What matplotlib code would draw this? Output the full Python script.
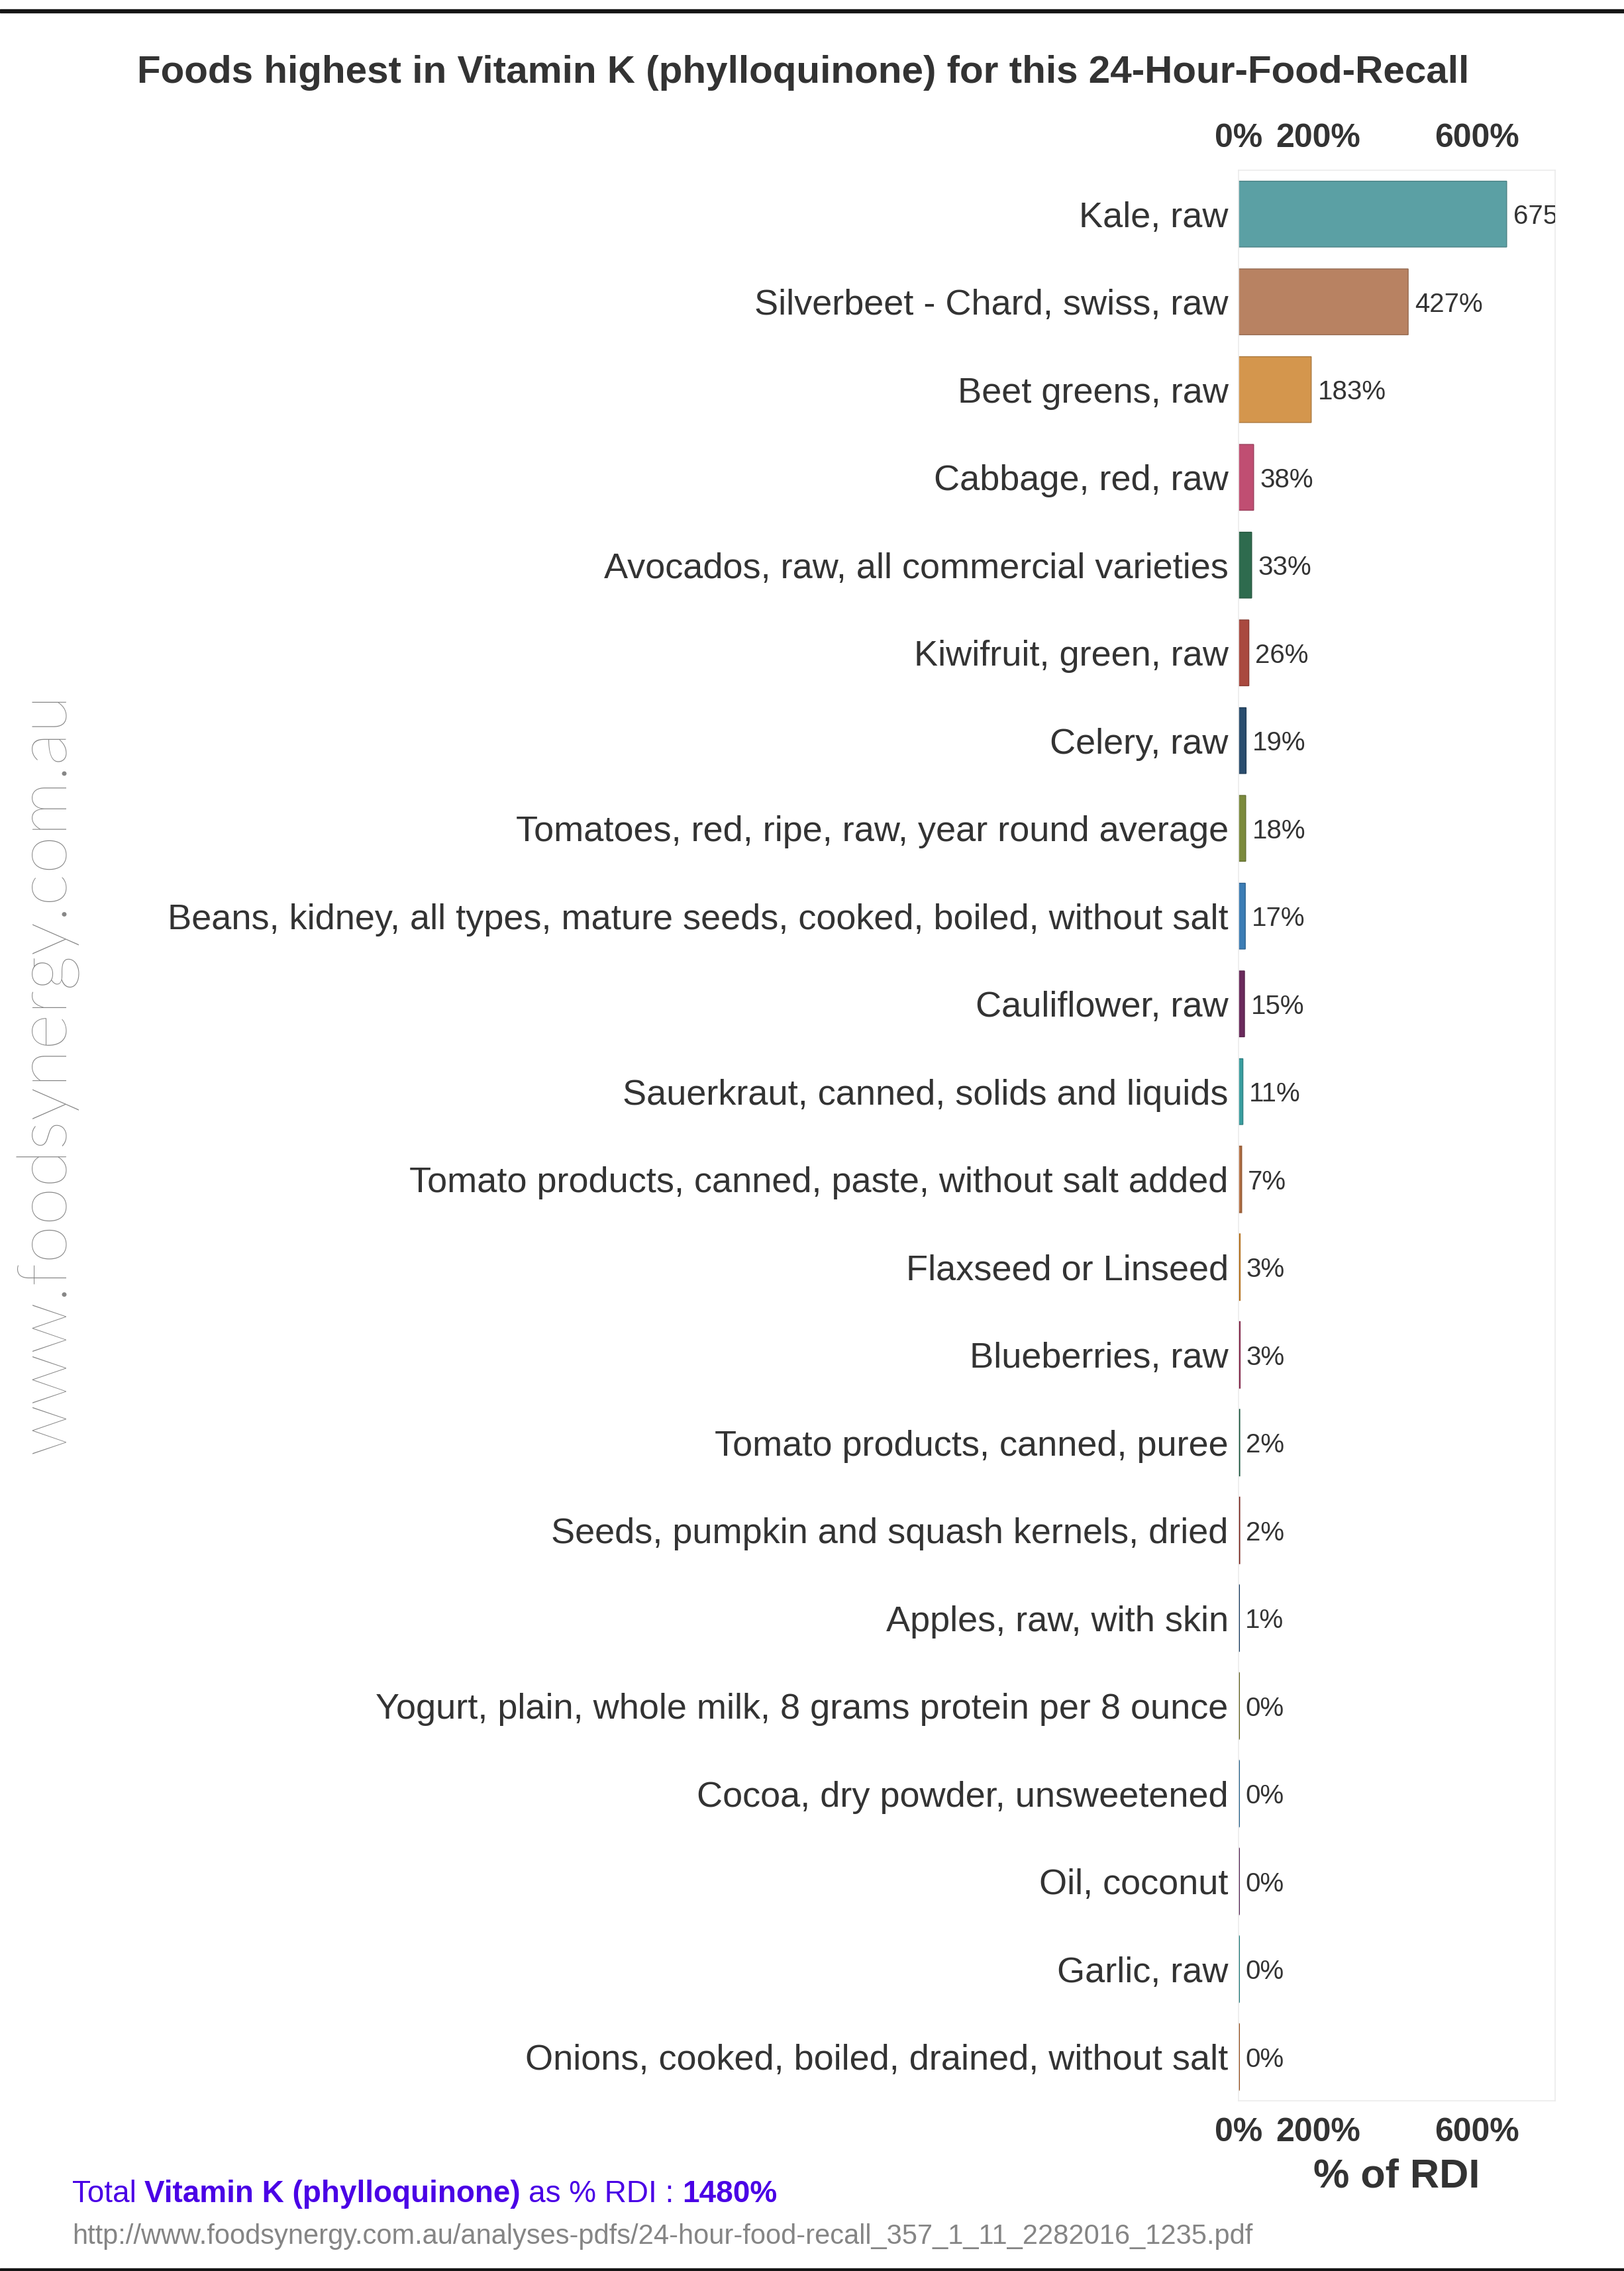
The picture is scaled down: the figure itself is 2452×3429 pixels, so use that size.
#VitaminK_24h_recall.py
import numpy as np
import matplotlib
matplotlib.use('Agg')
import matplotlib.pyplot as plt
from matplotlib.patches import Rectangle
import matplotlib.colors as mcolors

'''Data'''
foods = ['Kale, raw',
         'Silverbeet - Chard, swiss, raw',
         'Beet greens, raw',
         'Cabbage, red, raw',
         'Avocados, raw, all commercial varieties',
         'Kiwifruit, green, raw',
         'Celery, raw',
         'Tomatoes, red, ripe, raw, year round average',
         'Beans, kidney, all types, mature seeds, cooked, boiled, without salt',
         'Cauliflower, raw',
         'Sauerkraut, canned, solids and liquids',
         'Tomato products, canned, paste, without salt added',
         'Flaxseed or Linseed',
         'Blueberries, raw',
         'Tomato products, canned, puree',
         'Seeds, pumpkin and squash kernels, dried',
         'Apples, raw, with skin',
         'Yogurt, plain, whole milk, 8 grams protein per 8 ounce',
         'Cocoa, dry powder, unsweetened',
         'Oil, coconut',
         'Garlic, raw',
         'Onions, cooked, boiled, drained, without salt']
rdi_pct = [675, 427, 183, 38, 33, 26, 19, 18, 17, 15, 11, 7, 3, 3, 2, 2, 1, 0, 0, 0, 0, 0]
bar_colors = ['#5ba0a4', '#b88262', '#d4964d', '#c04e72', '#2e6b4e', '#a9493f',
              '#2a4d6e', '#7b8a3c', '#3c7db5', '#6a2a5c', '#3a9ea0', '#c07848',
              '#e08a20', '#a0305a', '#0a5a3a', '#8b1a10', '#0a3a6a', '#6a6a10',
              '#1a6aa0', '#5a1a5a', '#108a8a', '#b05010']
x_ticks = [0, 200, 600]
x_ticklabels = ['0%', '200%', '600%']
nutrient = 'Vitamin K (phylloquinone)'
total_pct = 1480
source_url = 'http://www.foodsynergy.com.au/analyses-pdfs/24-hour-food-recall_357_1_11_2282016_1235.pdf'

plt.rcParams['font.family'] = ['Liberation Sans', 'DejaVu Sans']
txt_col = '#333333'

W, H = 2452, 3429
fig = plt.figure(figsize=(W/100, H/100), dpi=100)
fig.patch.set_facecolor('white')

#axes placed from pixel measurements of the reference
ax_l, ax_r, ax_t, ax_b = 1870, 2348, 257, 3172
ax = fig.add_axes([ax_l/W, 1 - ax_b/H, (ax_r - ax_l)/W, (ax_b - ax_t)/H])

ypos = np.arange(len(foods))
edge_cols = [tuple(np.array(mcolors.to_rgb(c))*0.8) for c in bar_colors]
#the original still shows a hairline for the rounded-to-0% foods
draw_vals = np.maximum(np.array(rdi_pct, dtype=float), 0.8)
lws = [1.0 if v > 10 else 1.8 for v in rdi_pct]
bars = ax.barh(ypos, draw_vals, height=0.75, color=bar_colors,
               edgecolor=edge_cols, linewidth=lws, snap=False)
ax.set_ylim(len(foods) - 0.5, -0.5)
ax.set_xlim(0, 797)

#value labels (first one gets clipped by the frame like in the original)
labs = ax.bar_label(bars, labels=[f'{v}%' for v in rdi_pct], padding=7,
                    fontsize=29, color=txt_col)
for t in labs:
    t.set_clip_on(True)
    t.set_clip_box(ax.bbox)
    t.set_va('center_baseline')

ax.set_yticks(ypos)
ax.set_yticklabels(foods, fontsize=39, color=txt_col)
ax.set_xticks(x_ticks)
ax.set_xticklabels(x_ticklabels, fontsize=36, fontweight='bold', color=txt_col)
ax.tick_params(axis='y', length=0, pad=11)
ax.tick_params(axis='x', length=0, top=True, labeltop=True, bottom=True,
               labelbottom=True, pad=18)
for sp in ax.spines.values():
    sp.set_color('#ebebeb')
    sp.set_linewidth(1.2)

#texts around the chart
fig.text(1213/W, 1 - 110/H, f'Foods highest in {nutrient} for this 24-Hour-Food-Recall',
         ha='center', va='center', fontsize=42, fontweight='bold', color=txt_col)
fig.text((ax_l + ax_r)/2/W, 1 - 3287/H, '% of RDI', ha='center', va='center',
         fontsize=44, fontweight='bold', color=txt_col)
fig.text(70/W, 1 - 1620/H, 'www.foodsynergy.com.au', rotation=90, ha='center',
         va='center', fontsize=75, color='#868686', family=['Lato', 'DejaVu Sans'],
         fontweight='light')
fig.text(109/W, 1 - 3377/H, source_url, ha='left', va='center', fontsize=30,
         color='#858585')

#total line: mix of regular and bold pieces
purple = '#4a00e6'
pieces = [('Total', 'normal'), (nutrient, 'bold'), ('as % RDI :', 'normal'),
          (f'{total_pct}%', 'bold')]
prev = fig.text(109/W, 1 - 3313/H, pieces[0][0], ha='left', va='center',
                fontsize=33, color=purple, fontweight=pieces[0][1])
for txt, wt in pieces[1:]:
    prev = plt.annotate(txt, xy=(1, 0.5), xycoords=prev, xytext=(9, 0),
                        textcoords='offset points', ha='left', va='center',
                        fontsize=33, color=purple, fontweight=wt,
                        annotation_clip=False)

#black rules at top and bottom
fig.add_artist(Rectangle((0, 1 - 19/H), 1, 5/H, transform=fig.transFigure,
                         color='#151515', zorder=5))
fig.add_artist(Rectangle((0, 0), 1, 4/H, transform=fig.transFigure,
                         color='#151515', zorder=5))

fig.savefig('out.png', dpi=100)
